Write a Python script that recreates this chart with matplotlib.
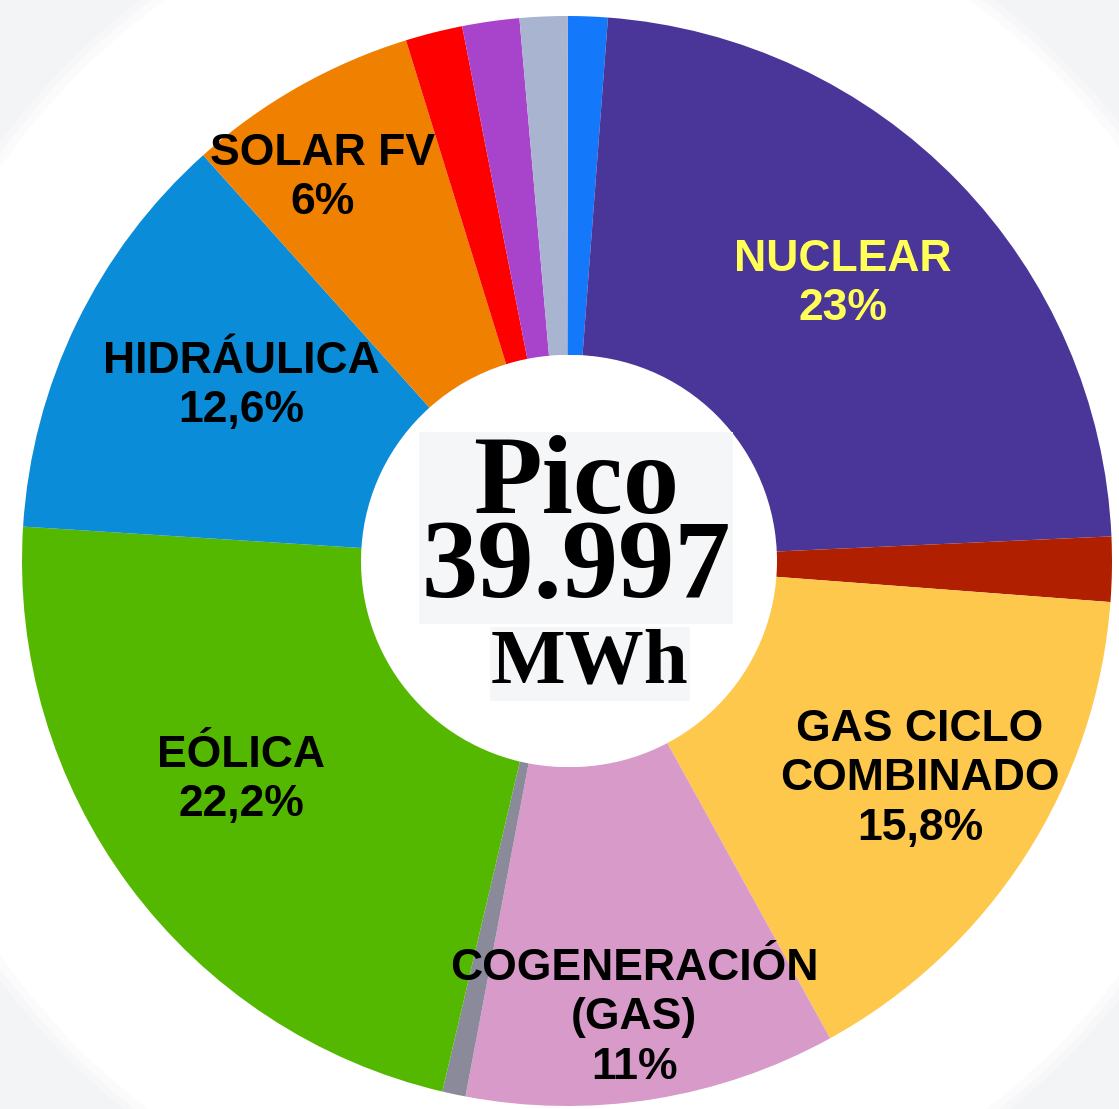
import matplotlib
matplotlib.use("Agg")
import matplotlib.pyplot as plt
from matplotlib.patches import Circle

# ---- data (percent share, clockwise from top) ----
categories = ["Otras renovables", "NUCLEAR", "Carbón", "GAS CICLO COMBINADO",
              "COGENERACIÓN (GAS)", "Otros", "EÓLICA", "HIDRÁULICA", "SOLAR FV",
              "Solar térmica", "Residuos", "Turbinación bombeo"]
shares = [1.17, 23.08, 1.92, 15.78, 11.0, 0.69, 22.33, 12.36, 6.86, 1.69, 1.69, 1.42]
colors = ["#1478fa", "#4a3598", "#b02000", "#fec84c", "#d89ac9", "#8a8a9a",
          "#55b800", "#0a8cd8", "#f08000", "#ff0000", "#a844cc", "#a8b4d0"]

label_texts = ["NUCLEAR\n23%", "GAS CICLO\nCOMBINADO\n15,8%", "COGENERACIÓN\n(GAS)\n11%",
               "EÓLICA\n22,2%", "HIDRÁULICA\n12,6%", "SOLAR FV\n6%"]
label_colors = ["#ffff55", "black", "black", "black", "black", "black"]

center_title = "Pico\n39.997"
center_unit = "MWh"

# ---- layout (pixel-like coordinates, y up) ----
W, H = 1119, 1109
fig = plt.figure(figsize=(W / 100, H / 100), dpi=100, facecolor="#f3f4f6")
ax = fig.add_axes([0, 0, 1, 1])

cx, cy = 567, H - 561
R_out, R_in = 545, 206

# soft white background disk
for r, a in [(705, 0.35), (698, 0.6), (690, 1.0)]:
    ax.add_patch(Circle((cx, cy), r, facecolor="white", edgecolor="none", alpha=a, zorder=0))

ax.pie(shares, colors=colors, startangle=89.9, counterclock=False,
       center=(cx, cy), radius=R_out, frame=True,
       wedgeprops=dict(width=R_out - R_in, edgecolor="none", linewidth=0))
ax.set_xlim(0, W)
ax.set_ylim(0, H)
ax.set_aspect("equal")
ax.axis("off")

ax.add_patch(Circle((cx + 4, cy), R_in, facecolor="white", edgecolor="none", zorder=3))

# slice labels
label_pos = [(843, 284), (920, 779), (634, 1018), (241, 780), (241, 386), (322, 178)]
for txt, col, (x, y) in zip(label_texts, label_colors, label_pos):
    ax.text(x, H - y, txt, ha="center", va="center", color=col,
            fontsize=32, fontweight="bold", family="Liberation Sans",
            linespacing=1.27, zorder=5)

# center text
ax.text(576, H - 528, center_title, ha="center", va="center", color="black",
        fontsize=81, fontweight="bold", family="Liberation Serif", zorder=6,
        linespacing=0.78,
        bbox=dict(boxstyle="square,pad=0.02", facecolor="#f5f6f8", edgecolor="none"))
ax.text(590, H - 664, center_unit, ha="center", va="center", color="black",
        fontsize=57, fontweight="bold", family="Liberation Serif", zorder=6,
        bbox=dict(boxstyle="square,pad=0.02", facecolor="#f5f6f8", edgecolor="none"))

fig.savefig("out.png", dpi=100, facecolor=fig.get_facecolor())
